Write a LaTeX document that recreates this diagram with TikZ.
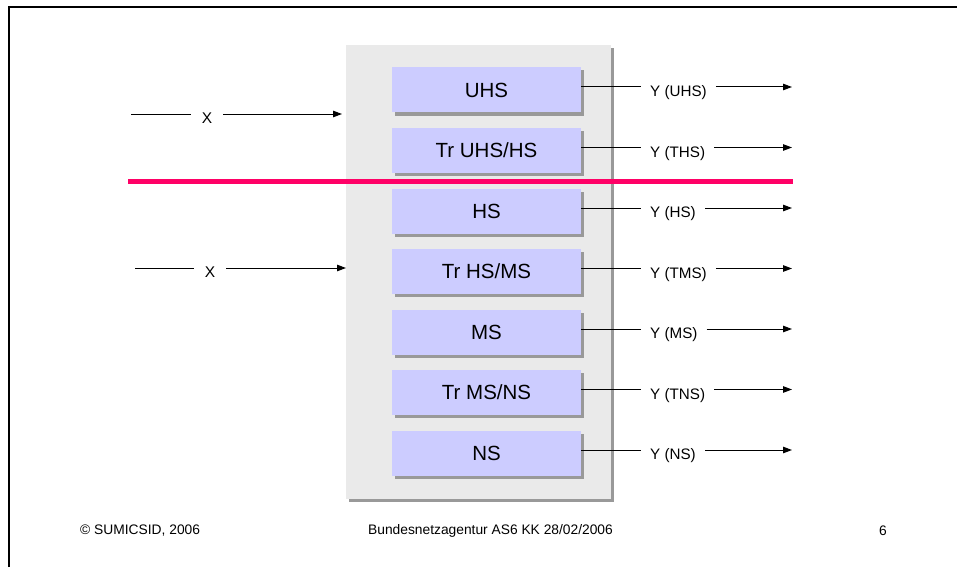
\documentclass[tikz,border=0pt]{standalone}
\usepackage{fontspec}
\setmainfont{Liberation Sans}
\usetikzlibrary{arrows.meta,shadows}
\definecolor{boxblue}{HTML}{CCCCFF}
\definecolor{panelgray}{HTML}{EAEAEA}
\definecolor{shadegray}{HTML}{999999}
\definecolor{cutred}{HTML}{FF0066}
\begin{document}
\begin{tikzpicture}[x=1pt,y=-1pt,
	lvl/.style={fill=boxblue,minimum width=189pt,minimum height=45pt,inner sep=0pt,font=\fontsize{20.5}{24}\selectfont,drop shadow={shadow xshift=3pt,shadow yshift=-3pt,fill=shadegray,opacity=1}},
	ylab/.style={anchor=west,inner xsep=9pt,inner ysep=0pt,font=\fontsize{15.2}{18}\selectfont},
	xlab/.style={inner xsep=11pt,inner ysep=0pt,font=\fontsize{15.5}{18}\selectfont},
	foot/.style={inner sep=0pt,font=\fontsize{13.8}{16}\selectfont},
	flow/.style={line width=1pt,-{Triangle[length=9pt,width=6.5pt]}}]
	\useasboundingbox (0,0) rectangle (957,567);
	\draw[line width=2pt] (9,567) -- (9,7) -- (957,7);
	\node[fill=panelgray,minimum width=265pt,minimum height=454pt,inner sep=0pt,drop shadow={shadow xshift=3pt,shadow yshift=-3pt,fill=shadegray,opacity=1}] (panel) at (478.5,272) {};
	\node[lvl] (uhs) at (486.5,90) {UHS};
	\node[lvl] (ths) at (486.5,150.5) {Tr UHS/HS};
	\node[lvl] (hs) at (486.5,211) {HS};
	\node[lvl] (tms) at (486.5,271.5) {Tr HS/MS};
	\node[lvl] (ms) at (486.5,332) {MS};
	\node[lvl] (tns) at (486.5,392.5) {Tr MS/NS};
	\node[lvl] (ns) at (486.5,453) {NS};
	\node[ylab] (yuhs) at (641,93) {Y (UHS)};
	\node[ylab] (yths) at (641,153.5) {Y (THS)};
	\node[ylab] (yhs) at (641,214) {Y (HS)};
	\node[ylab] (ytms) at (641,274.5) {Y (TMS)};
	\node[ylab] (yms) at (641,335) {Y (MS)};
	\node[ylab] (ytns) at (641,395.5) {Y (TNS)};
	\node[ylab] (yns) at (641,456) {Y (NS)};
	\coordinate (euhs) at (792,87);
	\coordinate (eths) at (792,147.5);
	\coordinate (ehs) at (792,208);
	\coordinate (etms) at (792,268.5);
	\coordinate (ems) at (792,329);
	\coordinate (etns) at (792,389.5);
	\coordinate (ens) at (792,450);
	\draw[line width=1pt] (uhs.east |- euhs) -- (yuhs.west |- euhs);
	\draw[line width=1pt] (ths.east |- eths) -- (yths.west |- eths);
	\draw[line width=1pt] (hs.east |- ehs) -- (yhs.west |- ehs);
	\draw[line width=1pt] (tms.east |- etms) -- (ytms.west |- etms);
	\draw[line width=1pt] (ms.east |- ems) -- (yms.west |- ems);
	\draw[line width=1pt] (tns.east |- etns) -- (ytns.west |- etns);
	\draw[line width=1pt] (ns.east |- ens) -- (yns.west |- ens);
	\draw[flow] (yuhs.east |- euhs) -- (euhs);
	\draw[flow] (yths.east |- eths) -- (eths);
	\draw[flow] (yhs.east |- ehs) -- (ehs);
	\draw[flow] (ytms.east |- etms) -- (etms);
	\draw[flow] (yms.east |- ems) -- (ems);
	\draw[flow] (ytns.east |- etns) -- (etns);
	\draw[flow] (yns.east |- ens) -- (ens);
	\coordinate (in1) at (131,114);
	\coordinate (in2) at (135,268);
	\node[xlab] (x1) at (207,118) {X};
	\node[xlab] (x2) at (210,272) {X};
	\coordinate (to1) at (342,114);
	\coordinate (to2) at (346,268);
	\draw[line width=1pt] (in1) -- (x1.west |- in1);
	\draw[line width=1pt] (in2) -- (x2.west |- in2);
	\draw[flow] (x1.east |- in1) -- (to1);
	\draw[flow] (x2.east |- in2) -- (to2);
	\coordinate (cutl) at (128,181);
	\coordinate (cutr) at (793,181);
	\draw[cutred,line width=5pt] (cutl) -- (cutr);
	\node[foot,anchor=west] (copy) at (80,531) {© SUMICSID, 2006};
	\node[foot] (agency) at (490.5,531) {Bundesnetzagentur AS6 KK 28/02/2006};
	\node[foot,anchor=east] (page) at (887,531) {6};
\end{tikzpicture}
\end{document}
